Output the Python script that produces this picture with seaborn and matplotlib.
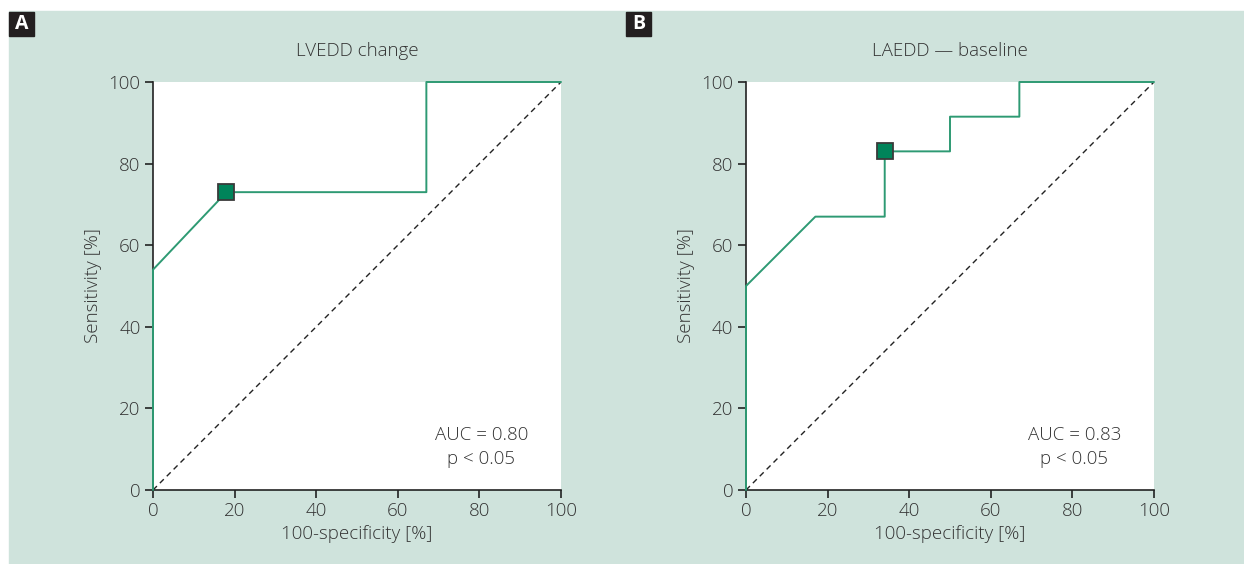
import matplotlib.pyplot as plt
import seaborn as sns
import pandas as pd
from matplotlib.patches import Rectangle

# ROC kurven
a_fpr = [0, 0, 18, 67, 67, 100]
a_sens = [0, 54, 73, 73, 100, 100]
a_cut = (18, 73)

b_fpr = [0, 0, 17, 34, 34, 50, 50, 67, 67, 100]
b_sens = [0, 50, 67, 67, 83, 83, 91.5, 91.5, 100, 100]
b_cut = (34, 83)

titles = ["LVEDD change", "LAEDD \u2014 baseline"]
letters = ["A", "B"]
auc_text = ["AUC = 0.80\np < 0.05", "AUC = 0.83\np < 0.05"]
ticks = [0, 20, 40, 60, 80, 100]

bg = "#cfe3dc"
line_col = "#2e9a73"
mark_col = "#00845a"
txt = "#333333"

sns.set_style("ticks")
plt.rcParams["font.family"] = ["Open Sans", "DejaVu Sans"]
plt.rcParams["font.weight"] = "light"
plt.rcParams["axes.titleweight"] = "light"
plt.rcParams["axes.labelweight"] = "light"

fig = plt.figure(figsize=(12.44, 5.64), dpi=100)
fig.patches.append(Rectangle((9 / 1244, 0), 1 - 9 / 1244, 1 - 11 / 564,
                             transform=fig.transFigure, color=bg, zorder=-10))

curves = [(a_fpr, a_sens, a_cut), (b_fpr, b_sens, b_cut)]
lefts = [153, 746]
box_x = [9, 626]

for i, (fpr, sens, cut) in enumerate(curves):
    ax = fig.add_axes([lefts[i] / 1244, 74 / 564, 408 / 1244, 408 / 564])
    ax.set_facecolor("white")
    df = pd.DataFrame({"fpr": fpr, "sens": sens})
    ax.plot([0, 100], [0, 100], ls=(0, (4, 3)), color="#222222", lw=1)
    sns.lineplot(data=df, x="fpr", y="sens", sort=False, estimator=None,
                 color=line_col, lw=1.4, ax=ax, clip_on=False, zorder=3)
    ax.plot([cut[0]], [cut[1]], marker="s", ms=11, color=mark_col,
            mec="#3a3a3a", mew=1.3, zorder=5, clip_on=False)
    ax.set_xlim(0, 100)
    ax.set_ylim(0, 100)
    ax.set_xticks(ticks)
    ax.set_yticks(ticks)
    sns.despine(ax=ax)
    for s in ["left", "bottom"]:
        ax.spines[s].set_color("#222222")
        ax.spines[s].set_linewidth(1.2)
    ax.tick_params(direction="out", length=6, width=1.2, color="#222222",
                   labelsize=13.5, labelcolor=txt, pad=3)
    ax.set_xlabel("100-specificity [%]", fontsize=13.5, color=txt, labelpad=3)
    ax.set_ylabel("Sensitivity [%]", fontsize=13.5, color=txt, labelpad=5)
    ax.set_title(titles[i], fontsize=13.5, color=txt, pad=19)
    ax.text(0.805, 0.105, auc_text[i], transform=ax.transAxes, ha="center",
            va="center", fontsize=13.5, color=txt, linespacing=1.45)
    # Buchstabe
    fig.patches.append(Rectangle((box_x[i] / 1244, 1 - 36 / 564), 25 / 1244, 24 / 564,
                                 transform=fig.transFigure, color="#231f20", zorder=-5))
    fig.text((box_x[i] + 12.5) / 1244, 1 - 24 / 564, letters[i], color="white",
             fontsize=14, fontweight="bold", ha="center", va="center")

fig.savefig("out.png", dpi=100)
